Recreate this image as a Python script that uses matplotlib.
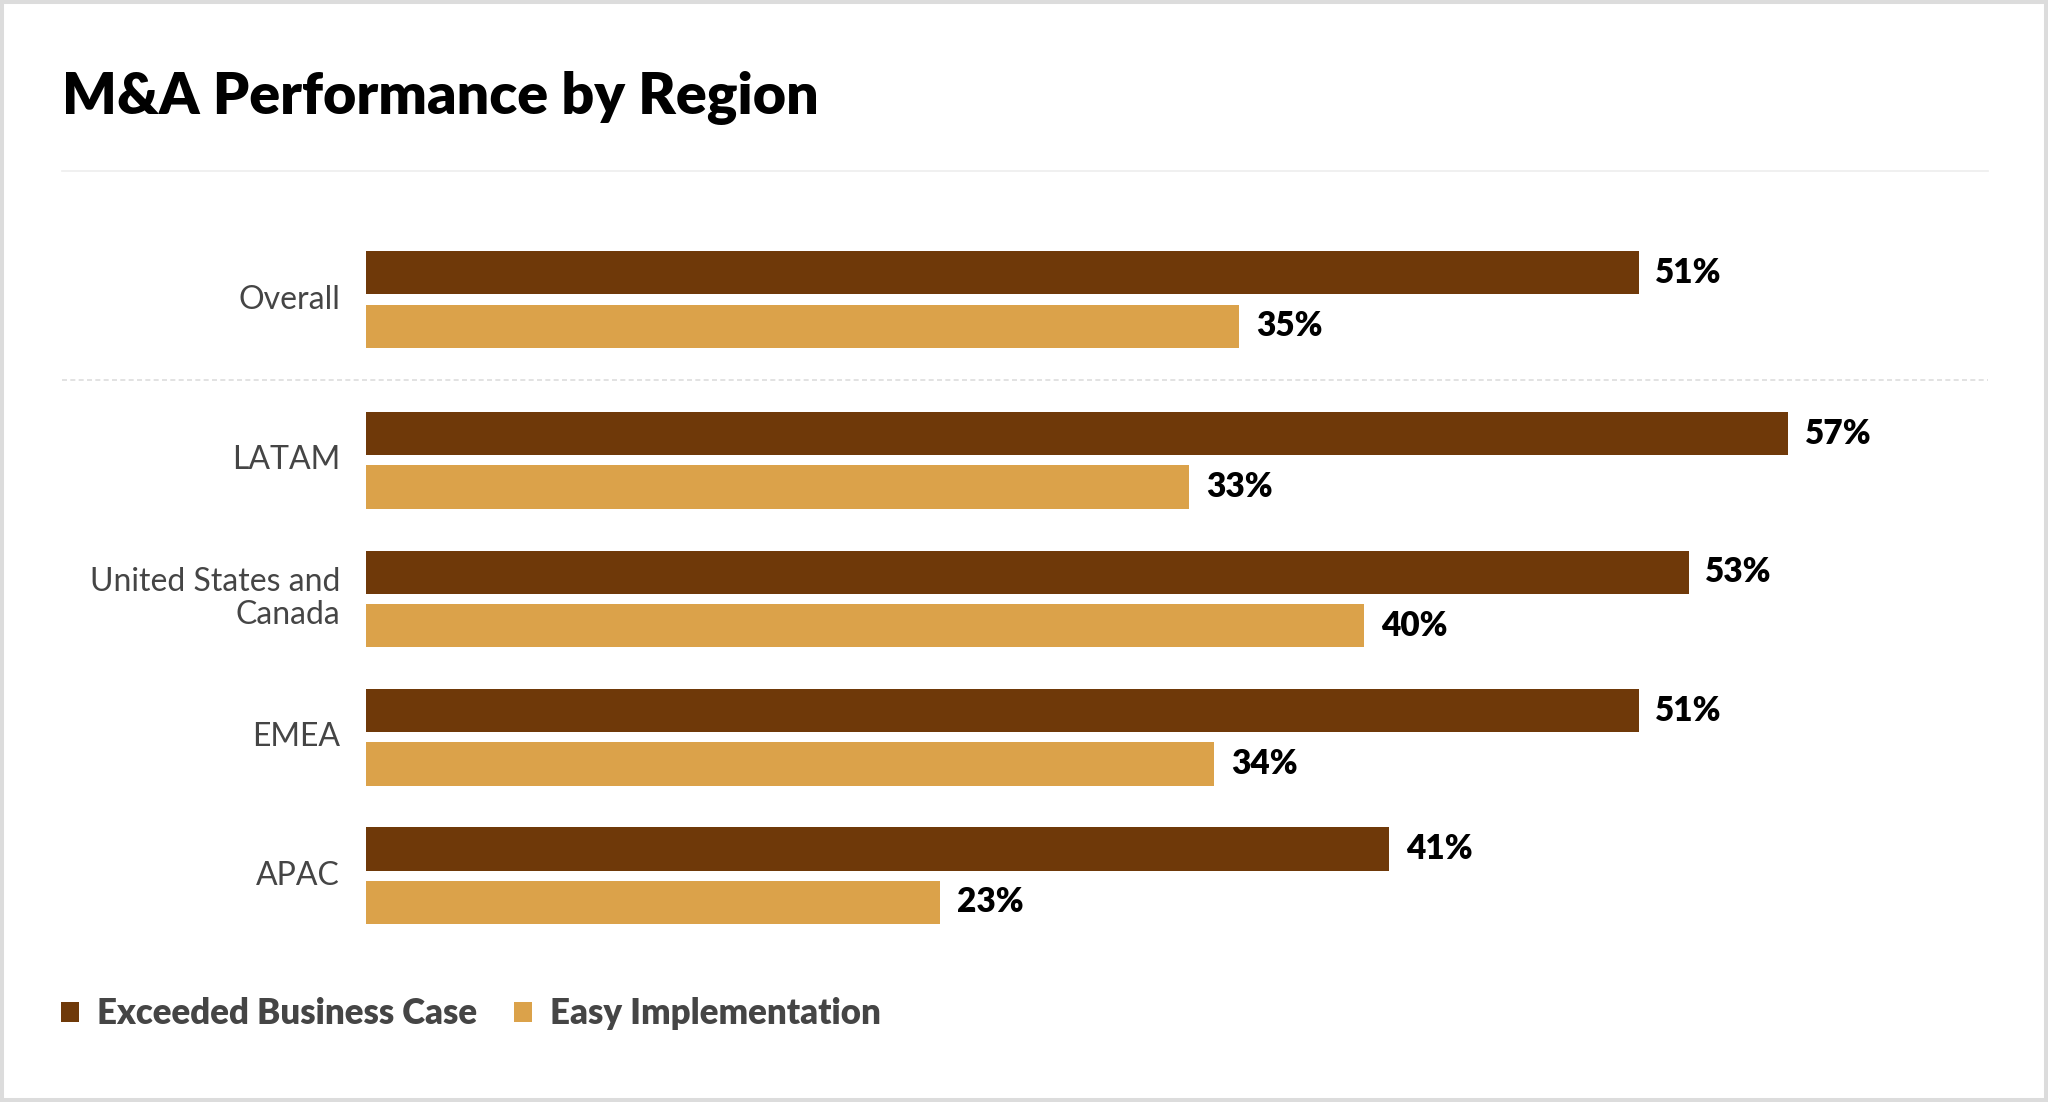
import matplotlib.pyplot as plt
import matplotlib.transforms as mtransforms
from matplotlib.patches import Patch, Rectangle
from matplotlib.lines import Line2D

plt.rcParams['font.family'] = ['Lato', 'DejaVu Sans']

# Data
regions = ['Overall', 'LATAM', 'United States and\nCanada', 'EMEA', 'APAC']
exceeded = [51, 57, 53, 51, 41]
easy = [35, 33, 40, 34, 23]
series_names = ['Exceeded Business Case', 'Easy Implementation']

DARK = '#6F3909'
LIGHT = '#DBA24A'
TEXT_GRAY = '#454545'

fig = plt.figure(figsize=(10.24, 5.51), dpi=200)
fig.patch.set_facecolor('white')

# outer frame
fig.patches.append(Rectangle((0, 0), 1, 1, transform=fig.transFigure, fill=False,
                             edgecolor='#dcdcdc', linewidth=2.9, zorder=10))

ax = fig.add_axes([366 / 2048, 0.1229, (1988 - 366) / 2048, 0.7219])

# group positions: extra gap after "Overall"
pos = [0.0] + [i + 0.16 for i in range(1, len(regions))]
off = 0.193
h = 0.311

ax.barh([p - off for p in pos], exceeded, height=h, color=DARK)
ax.barh([p + off for p in pos], easy, height=h, color=LIGHT)

for p, v in zip(pos, exceeded):
    ax.annotate(f'{v}%', (v, p - off), xytext=(6, 0), textcoords='offset points',
                va='center', ha='left', fontsize=12, fontweight='heavy', color='black')
for p, v in zip(pos, easy):
    ax.annotate(f'{v}%', (v, p + off), xytext=(6, 0), textcoords='offset points',
                va='center', ha='left', fontsize=12, fontweight='heavy', color='black')

for p, lab in zip(pos, regions):
    ax.annotate(lab, (0, p), xytext=(-9.4, 0), textcoords='offset points',
                va='center', ha='right', fontsize=11.5, color=TEXT_GRAY, linespacing=1.14)

ax.set_xlim(0, 65)
ax.set_ylim(4.816, -0.929)
ax.axis('off')

# separators
blend = mtransforms.blended_transform_factory(fig.transFigure, ax.transData)
x0, x1 = 62 / 2048, 1988 / 2048
fig.lines.append(Line2D([x0, x1], [-0.929, -0.929], transform=blend,
                        color='#ededed', linewidth=0.6))
fig.lines.append(Line2D([x0, x1], [0.58, 0.58], transform=blend,
                        color='#dddddd', linewidth=0.6, linestyle=(0, (3, 2))))

# title
fig.text(62 / 2048, 1 - 114 / 1102, 'M&A Performance by Region', fontsize=20.6,
         fontweight='heavy', color='black', va='baseline', ha='left')

# legend
handles = [Patch(facecolor=DARK), Patch(facecolor=LIGHT)]
leg = fig.legend(handles, series_names, loc='lower left',
                 bbox_to_anchor=(61 / 2048, 1 - 1030 / 1102), ncol=2, frameon=False,
                 handlelength=0.52, handleheight=0.52, handletextpad=0.52,
                 columnspacing=1.05, borderpad=0, borderaxespad=0,
                 prop={'size': 12.5, 'weight': 'heavy'})
for t in leg.get_texts():
    t.set_color(TEXT_GRAY)

fig.savefig('out.png', dpi=200, facecolor='white')
